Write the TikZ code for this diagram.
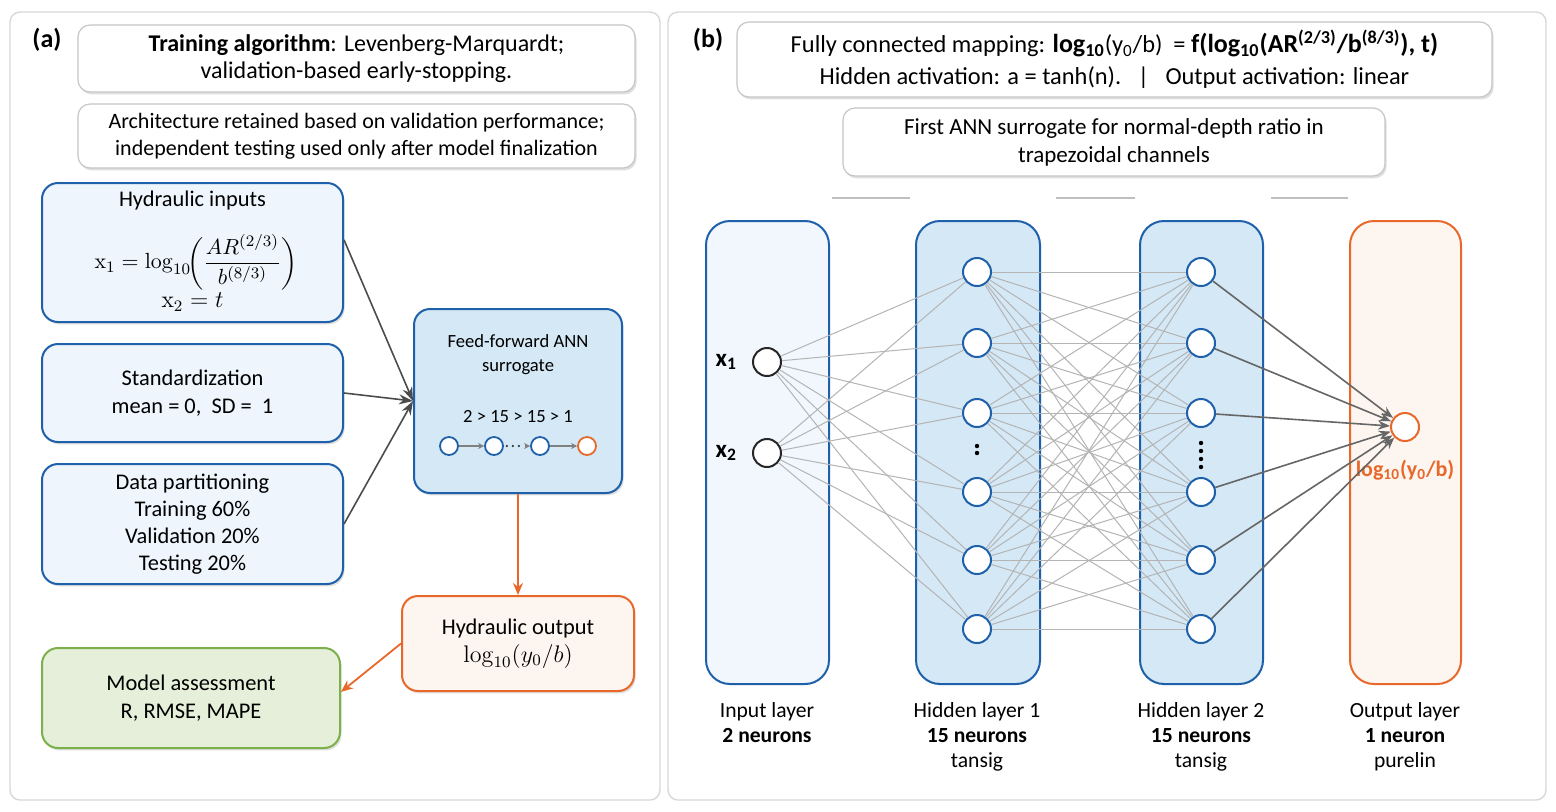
\documentclass[tikz,border=0pt]{standalone}
\usepackage{amsmath}
\usepackage[no-math]{fontspec}
\setmainfont{Carlito}
\usetikzlibrary{shadows,arrows.meta,calc}
\definecolor{bluebd}{HTML}{1F60AA}
\definecolor{lightfill}{HTML}{EEF5FC}
\definecolor{inputfill}{HTML}{F1F7FD}
\definecolor{fffill}{HTML}{D4E8F6}
\definecolor{orangebd}{HTML}{E8682A}
\definecolor{orangefill}{HTML}{FDF6F0}
\definecolor{greenbd}{HTML}{7CB04A}
\definecolor{greenfill}{HTML}{E5EFD9}
\definecolor{connlight}{HTML}{B4B4B4}
\definecolor{conndark}{HTML}{666666}
\definecolor{panelbd}{HTML}{D8D8D8}
\tikzset{
  x=0.5pt, y=-0.5pt,
  shad/.style={drop shadow={opacity=0.25, shadow xshift=0.8pt, shadow yshift=-1.2pt}},
  panel/.style={draw=panelbd, line width=0.7pt, rounded corners=5pt, fill=white, inner sep=0pt},
  graybox/.style={draw=gray!45, line width=0.6pt, rounded corners=6pt, fill=white, shad, align=center, inner sep=0pt, font=\fontsize{12}{13.5}\selectfont},
  bluebox/.style={draw=bluebd, line width=1pt, rounded corners=8pt, fill=lightfill, shad, align=center, inner sep=0pt, font=\fontsize{11.2}{14}\selectfont},
  ffbox/.style={bluebox, fill=fffill},
  orangebox/.style={draw=orangebd, line width=1pt, rounded corners=8pt, fill=orangefill, shad, align=center, inner sep=0pt, font=\fontsize{11.2}{14}\selectfont},
  greenbox/.style={draw=greenbd, line width=1pt, rounded corners=8pt, fill=greenfill, shad, align=center, inner sep=0pt, font=\fontsize{11.2}{14}\selectfont},
  layerbox/.style={draw=bluebd, line width=1pt, rounded corners=12pt, inner sep=0pt, minimum height=231.5pt},
  neuron/.style={circle, draw=bluebd, line width=1pt, fill=white, minimum size=14pt, inner sep=0pt},
  inneuron/.style={neuron, draw=black!85},
  outneuron/.style={neuron, draw=orangebd},
  mini/.style={circle, draw=bluebd, line width=0.9pt, fill=white, minimum size=9pt, inner sep=0pt},
  conn/.style={draw=connlight, line width=0.5pt},
  outconn/.style={draw=conndark, line width=0.8pt, -{Stealth[length=6pt,width=4.5pt]}},
  flow/.style={draw=black!70, line width=0.8pt, -{Stealth[length=7pt,width=5pt]}},
  oflow/.style={draw=orangebd, line width=0.9pt, -{Stealth[length=6pt,width=5pt]}},
  lbl/.style={font=\fontsize{13}{15}\selectfont\bfseries},
  botlbl/.style={anchor=north, align=center, font=\fontsize{10.8}{12.5}\selectfont},
}
\begin{document}
\begin{tikzpicture}
\path[use as bounding box, fill=white] (0,0) rectangle (1556,811);
% panels
\node[panel, minimum width=325pt, minimum height=394pt] (pa) at (335,406) {};
\node[panel, minimum width=439pt, minimum height=394pt] (pb) at (1107,406) {};
\node[lbl] (la) at (47,40) {(a)};
\node[lbl] (lb) at (708,40) {(b)};

% ---------- panel (a)
\node[graybox, minimum width=278.5pt, minimum height=33.5pt] (t1) at (356.5,58.5)
  {\textbf{Training algorithm}: Levenberg-Marquardt;\\ validation-based early-stopping.};
\node[graybox, minimum width=278.5pt, minimum height=32pt, font=\fontsize{11}{13.5}\selectfont] (t2) at (356.5,136)
  {Architecture retained based on validation performance;\\ independent testing used only after model finalization};

\node[bluebox, minimum width=150.5pt, minimum height=69.5pt] (hin) at (192.5,252.5) {};
\node[font=\fontsize{11.2}{14}\selectfont, inner sep=0pt] (hint) at (192.5,201) {Hydraulic inputs};
\node[font=\fontsize{11.2}{14}\selectfont, inner sep=0pt] (hinf) at (196,262)
  {$\mathrm{x}_1 = \log_{10}\!\biggl(\dfrac{AR^{(2/3)}}{b^{(8/3)}}\biggr)$};
\node[font=\fontsize{11.5}{14}\selectfont, inner sep=0pt] (hinx) at (192.5,302) {$\mathrm{x}_2 = t$};
\node[bluebox, minimum width=150.5pt, minimum height=49pt] (std) at (192.5,393)
  {Standardization\\ mean = 0,\ \ SD =\ \ 1};
\node[bluebox, minimum width=150.5pt, minimum height=60pt, font=\fontsize{11.2}{13.6}\selectfont] (dp) at (192.5,524)
  {Data partitioning\\ Training 60\%\\ Validation 20\%\\ Testing 20\%};
\node[ffbox, minimum width=104pt, minimum height=92pt] (ff) at (518,401) {};
\node[align=center, font=\fontsize{9.3}{12}\selectfont] (fft) at (518,355) {Feed-forward ANN\\surrogate};
\node[font=\fontsize{9.3}{12}\selectfont] (ffa) at (518,417) {2 > 15 > 15 > 1};
\node[mini] (m1) at (449,446) {};
\node[mini] (m2) at (494,446) {};
\node[mini] (m3) at (540,446) {};
\node[mini, draw=orangebd] (m4) at (587,446) {};
\draw[draw=gray, line width=0.6pt, -{Stealth[length=3pt,width=3pt]}] (m1) -- (m2);
\draw[draw=black!80, line width=1.3pt, dash pattern=on 0pt off 3pt, line cap=round] ($(m2.east)+(3,0)$) -- ($(m3.west)+(-6,0)$);
\draw[draw=gray, line width=0.6pt, -{Stealth[length=3pt,width=3pt]}] ($(m3.west)+(-5,0)$) -- (m3.west);
\draw[draw=gray, line width=0.6pt, -{Stealth[length=3pt,width=3pt]}] (m3) -- (m4);

\node[orangebox, minimum width=116pt, minimum height=47.5pt] (hout) at (518,643.5)
  {Hydraulic output\\ {\fontsize{11.5}{14}\selectfont$\log_{10}(y_0/b)$}};
\node[greenbox, minimum width=149pt, minimum height=50pt] (ma) at (191,698)
  {Model assessment\\ R, RMSE, MAPE};

\draw[flow] ($(hin.north east)!0.41!(hin.south east)$) -- (ff.west);
\draw[flow] (std.east) -- (ff.west);
\draw[flow] (dp.east) -- (ff.west);
\draw[oflow] (ff.south) -- (hout.north);
\draw[oflow] (hout.west) -- ($(ma.north east)!0.44!(ma.south east)$);

% ---------- panel (b)
\node[graybox, minimum width=377.5pt, minimum height=37.5pt, font=\fontsize{12.2}{16}\selectfont] (bt1) at (1114.5,59.5)
  {Fully connected mapping: {\fontsize{13}{16}\selectfont\bfseries log\textsubscript{10}}(y\textsubscript{0}/b)\ \ = {\fontsize{13}{16}\selectfont\bfseries f(log\textsubscript{10}(AR\textsuperscript{(2/3)}/b\textsuperscript{(8/3)}), t)}\\
   Hidden activation: a = tanh(n).\ \ \ |\ \ \ Output activation: linear};
\node[graybox, minimum width=271pt, minimum height=34pt, font=\fontsize{11.5}{14}\selectfont] (bt2) at (1114,142)
  {First ANN surrogate for normal-depth ratio in\\ trapezoidal channels};
\draw[draw=gray!50, line width=0.6pt] (832,198) -- (910,198);
\draw[draw=gray!50, line width=0.6pt] (1056,198) -- (1135,198);
\draw[draw=gray!50, line width=0.6pt] (1271,198) -- (1348,198);

\node[layerbox, fill=inputfill, minimum width=61.5pt] (Lin) at (767.5,452.5) {};
\node[layerbox, fill=fffill, minimum width=62pt] (Lh1) at (978,452.5) {};
\node[layerbox, fill=fffill, minimum width=61.5pt] (Lh2) at (1201.5,452.5) {};
\node[layerbox, draw=orangebd, fill=orangefill, minimum width=55.5pt] (Lout) at (1405.5,452.5) {};

\node[inneuron] (i1) at (767,362) {};
\node[inneuron] (i2) at (767,453) {};
\node[font=\fontsize{12.5}{14}\selectfont\bfseries, anchor=east] (xl1) at (744,362) {x\textsubscript{1}};
\node[font=\fontsize{12.5}{14}\selectfont\bfseries, anchor=east] (xl2) at (744,453) {x\textsubscript{2}};

\foreach \k/\yy in {1/272,2/343,3/413,4/492,5/560,6/629}{
  \node[neuron] (a\k) at (977,\yy) {};
  \node[neuron] (c\k) at (1201,\yy) {};
}
\node[outneuron] (o) at (1405,427) {};
\node[font=\fontsize{11}{13}\selectfont\bfseries, text=orangebd] (ol) at (1405,470) {log\textsubscript{10}(y\textsubscript{0}/b)};

\foreach \yy in {446,453}{\fill[black] (977,\yy) circle (1.1pt);}
\foreach \yy in {443,451,459,467}{\fill[black] (1201,\yy) circle (1.1pt);}

\foreach \i in {1,2}{\foreach \k in {1,...,6}{\draw[conn] (i\i) -- (a\k);}}
\foreach \i in {1,...,6}{\foreach \k in {1,...,6}{\draw[conn] (a\i) -- (c\k);}}
\foreach \k in {1,...,6}{\draw[outconn] (c\k) -- (o);}

\node[botlbl] (bl1) at (767,695) {Input layer\\ \textbf{2 neurons}};
\node[botlbl] (bl2) at (977,695) {Hidden layer 1\\ \textbf{15 neurons}\\ tansig};
\node[botlbl] (bl3) at (1201,695) {Hidden layer 2\\ \textbf{15 neurons}\\ tansig};
\node[botlbl] (bl4) at (1405,695) {Output layer\\ \textbf{1 neuron}\\ purelin};
\end{tikzpicture}
\end{document}
